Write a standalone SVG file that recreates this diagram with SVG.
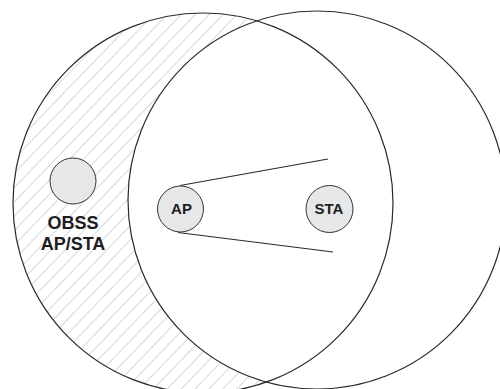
<svg xmlns="http://www.w3.org/2000/svg" width="500" height="389" viewBox="0 0 500 389">
  <style>
    .area { fill: none; stroke: #2a2a2a; stroke-width: 1.2; }
    .link { fill: none; stroke: #2a2a2a; stroke-width: 1.1; }
    .node { fill: #e6e7e8; stroke: #333333; stroke-width: 1; }
    .lbl { font-family: "Liberation Sans", Arial, sans-serif; font-weight: bold; fill: #1e1c1d; text-anchor: middle; }
  </style>
  <defs>
    <pattern id="hatch" patternUnits="userSpaceOnUse" width="10" height="10" patternTransform="rotate(44)">
      <line x1="0" y1="-1" x2="0" y2="11" stroke="#a9a9a9" stroke-width="0.9"/>
    </pattern>
  </defs>
  <rect width="500" height="389" fill="#ffffff"/>
  <g id="coverage">
    <circle cx="203" cy="203" r="190" fill="url(#hatch)"/>
    <circle cx="317" cy="200" r="189" fill="#ffffff"/>
    <circle class="area" cx="203" cy="203" r="190"/>
    <circle class="area" cx="317" cy="200" r="189"/>
  </g>
  <g id="connectors">
    <line class="link" x1="180" y1="185.5" x2="328" y2="159"/>
    <line class="link" x1="178" y1="232.5" x2="333" y2="252"/>
  </g>
  <g id="obss">
    <circle class="node" cx="73" cy="181" r="23"/>
    <text class="lbl" x="73" y="229" font-size="18">OBSS</text>
    <text class="lbl" x="73" y="250" font-size="18">AP/STA</text>
  </g>
  <g id="ap">
    <circle class="node" cx="180.5" cy="209" r="23"/>
    <text class="lbl" x="181.5" y="214" font-size="15">AP</text>
  </g>
  <g id="sta">
    <circle class="node" cx="329.5" cy="209" r="23.5"/>
    <text class="lbl" x="329" y="214" font-size="15">STA</text>
  </g>
</svg>
